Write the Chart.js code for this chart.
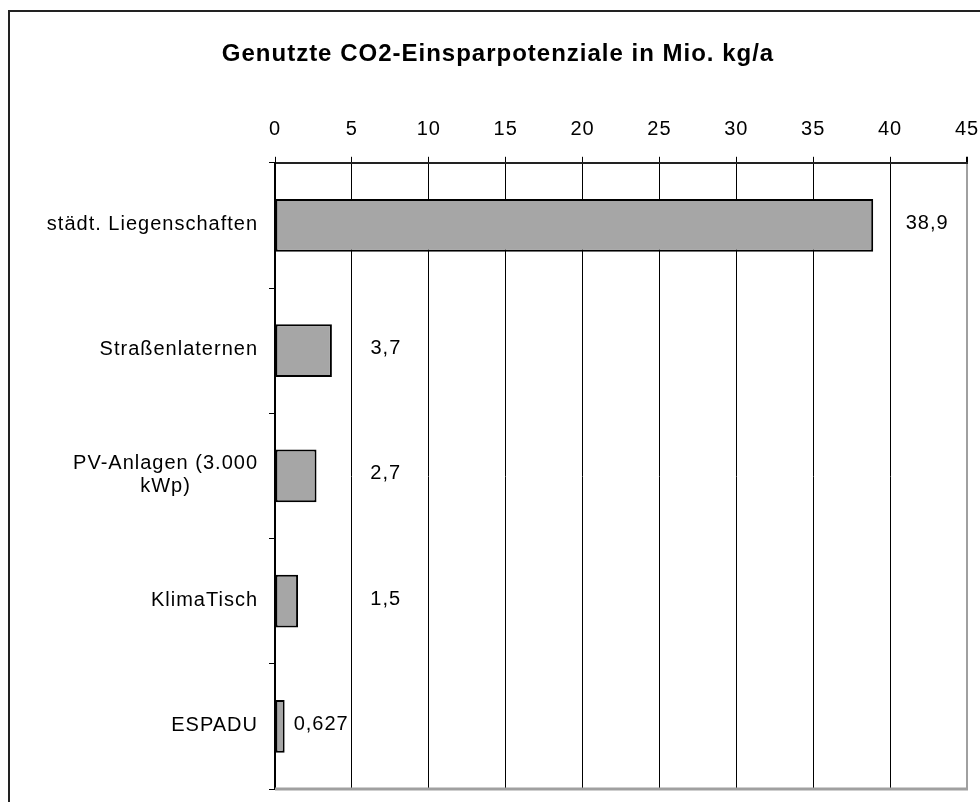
<!DOCTYPE html>
<html>
<head>
<meta charset="utf-8">
<script src="https://cdn.jsdelivr.net/npm/chart.js@4.4.1/dist/chart.umd.min.js"></script>
<style>
  html, body { margin: 0; padding: 0; background: #fff; }
  canvas { display: block; }
</style>
</head>
<body>
<canvas id="co2" width="980" height="802"></canvas>
<script>
// data
const categories = [
    'städt. Liegenschaften',
    'Straßenlaternen',
    ['PV-Anlagen (3.000', 'kWp)'],
    'KlimaTisch',
    'ESPADU'
];
const savings = [38.9, 3.7, 2.7, 1.5, 0.627];
const axisMin = 0;
const axisMax = 45;
const axisStep = 5;

const FONT = "'Liberation Sans', Arial, sans-serif";
const SPACING = '1px';

function germanNumber(v) {
    return String(v).replace('.', ',');
}

// the old office renderer spaces its letters a bit wider
const spacingPlugin = {
    id: 'spacing',
    beforeDraw(chart) {
        chart.ctx.letterSpacing = SPACING;
    }
};

// outer frame + grey plot border on the bottom
const framePlugin = {
    id: 'frame',
    beforeDatasetsDraw(chart) {
        const ctx = chart.ctx;
        const area = chart.chartArea;
        ctx.save();
        ctx.strokeStyle = '#222';
        ctx.lineWidth = 2;
        ctx.beginPath();
        ctx.moveTo(9, chart.height + 5);
        ctx.lineTo(9, 11);
        ctx.lineTo(chart.width + 5, 11);
        ctx.stroke();

        ctx.strokeStyle = '#a0a0a0';
        ctx.lineWidth = 3;
        ctx.beginPath();
        ctx.moveTo(area.left, area.bottom);
        ctx.lineTo(area.right + 1, area.bottom);
        ctx.stroke();
        ctx.restore();
    }
};

// category labels: block right-aligned, lines centred inside the block
const categoryLabels = {
    id: 'categoryLabels',
    afterDraw(chart) {
        const ctx = chart.ctx;
        const yScale = chart.scales.y;
        const right = yScale.right - 17;
        const lineH = 23;
        ctx.save();
        ctx.letterSpacing = SPACING;
        ctx.font = '20px ' + FONT;
        ctx.fillStyle = '#000';
        ctx.textBaseline = 'middle';
        ctx.textAlign = 'center';
        categories.forEach((cat, i) => {
            const lines = Array.isArray(cat) ? cat : [cat];
            const w = Math.max(...lines.map(l => ctx.measureText(l).width));
            const cx = right - w / 2;
            const y0 = yScale.getPixelForValue(i) - 1 - (lines.length - 1) * lineH / 2;
            lines.forEach((l, j) => ctx.fillText(l, cx, y0 + j * lineH));
        });
        ctx.restore();
    }
};

// value labels next to the bars
const valueLabels = {
    id: 'valueLabels',
    afterDatasetsDraw(chart) {
        const ctx = chart.ctx;
        const xScale = chart.scales.x;
        const meta = chart.getDatasetMeta(0);
        ctx.save();
        ctx.letterSpacing = SPACING;
        ctx.font = '20px ' + FONT;
        ctx.fillStyle = '#000';
        ctx.textBaseline = 'middle';
        meta.data.forEach((bar, i) => {
            const v = savings[i];
            const txt = germanNumber(v);
            if (v < 1) {
                ctx.textAlign = 'left';
                ctx.fillText(txt, bar.x + 9, bar.y - 2);
            } else {
                ctx.textAlign = 'center';
                const x = Math.max(bar.x + 54, xScale.getPixelForValue(7.2));
                ctx.fillText(txt, x, bar.y - 2);
            }
        });
        ctx.restore();
    }
};

new Chart(document.getElementById('co2'), {
    type: 'bar',
    data: {
        labels: categories,
        datasets: [{
            data: savings,
            backgroundColor: '#a6a6a6',
            borderColor: '#000',
            borderWidth: 2,
            borderSkipped: false,
            barPercentage: 0.42,
            categoryPercentage: 1
        }]
    },
    options: {
        indexAxis: 'y',
        responsive: false,
        animation: false,
        layout: { padding: { left: 29, right: 13, top: 0, bottom: 13 } },
        plugins: {
            legend: { display: false },
            tooltip: { enabled: false },
            title: {
                display: true,
                text: 'Genutzte CO2-Einsparpotenziale in Mio. kg/a',
                color: '#000',
                font: { family: FONT, size: 24, weight: 'bold', lineHeight: 1.2 },
                padding: { top: 40, bottom: 47 }
            }
        },
        scales: {
            x: {
                position: 'top',
                min: axisMin,
                max: axisMax,
                ticks: {
                    stepSize: axisStep,
                    color: '#000',
                    padding: 15,
                    font: { family: FONT, size: 20, lineHeight: 1.2 }
                },
                grid: {
                    color: ctx => ctx.tick && ctx.tick.value === axisMax ? '#a0a0a0' : '#000',
                    lineWidth: ctx => ctx.tick && ctx.tick.value === axisMax ? 2 : 1,
                    tickColor: '#000',
                    tickLength: 6
                },
                border: { color: '#222', width: 2 },
                afterFit(scale) {
                    scale.height = 47;
                    scale.paddingLeft = 0;
                    scale.paddingRight = 0;
                }
            },
            y: {
                ticks: { display: false },
                grid: {
                    offset: true,
                    drawOnChartArea: false,
                    drawTicks: true,
                    tickLength: 6,
                    color: '#000'
                },
                border: { color: '#000', width: 2 },
                afterFit(scale) { scale.width = 246; }
            }
        }
    },
    plugins: [spacingPlugin, framePlugin, categoryLabels, valueLabels]
});
</script>
</body>
</html>
